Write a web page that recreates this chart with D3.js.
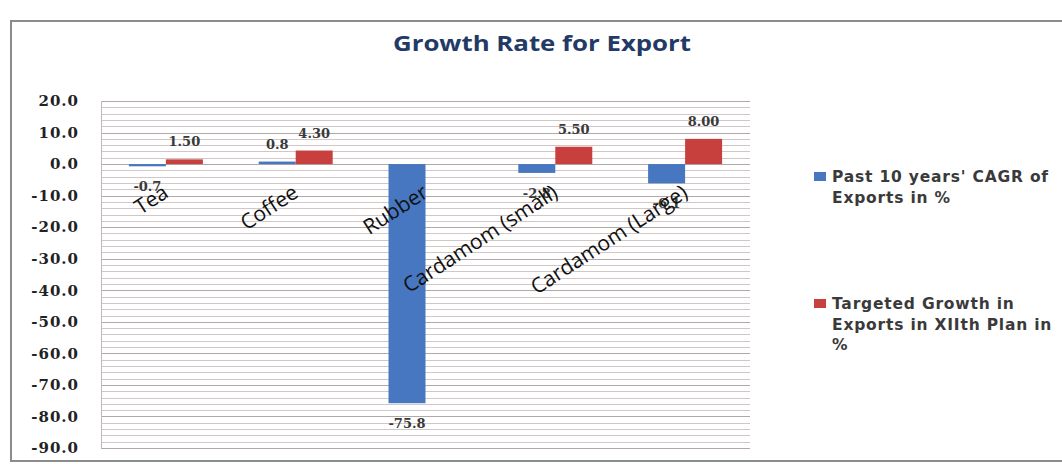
<!DOCTYPE html>
<html>
<head>
<meta charset="utf-8">
<script src="https://cdn.jsdelivr.net/npm/d3@7"></script>
<style>
  html, body { margin: 0; padding: 0; background: #ffffff; }
  svg { display: block; }
</style>
</head>
<body>
<svg id="chart" width="1062" height="464"></svg>
<script>
// ---- data ----
const categories = ["Tea", "Coffee", "Rubber", "Cardamom (small)", "Cardamom (Large)"];
const seriesNames = ["Past 10 years' CAGR of Exports in %", "Targeted Growth in Exports in XIIth Plan in %"];
const pastCAGR = [-0.7, 0.8, -75.8, -2.8, -6.1];
const pastLabels = ["-0.7", "0.8", "-75.8", "-2.8", "-6.1"];
const targeted = [1.5, 4.3, null, 5.5, 8.0];
const targetedLabels = ["1.50", "4.30", "", "5.50", "8.00"];
const tickValues = [20, 10, 0, -10, -20, -30, -40, -50, -60, -70, -80, -90];
const legendLines = [["Past 10 years' CAGR of", "Exports in %"], ["Targeted Growth in", "Exports in XIIth Plan in", "%"]];
const chartTitle = "Growth Rate for Export";
const colors = ["#4677c0", "#c8403e"];

const svg = d3.select("#chart");

// frame
svg.append("rect").attr("x", 0).attr("y", 0).attr("width", 1062).attr("height", 464).attr("fill", "#ffffff");
svg.append("rect").attr("x", 11).attr("y", 21).attr("width", 1062).attr("height", 440)
  .attr("fill", "#ffffff").attr("stroke", "#8c8c8c").attr("stroke-width", 2);

const pLeft = 101, pRight = 750, pTop = 101, pBottom = 448;
const y = d3.scaleLinear().domain([-90, 20]).range([pBottom, pTop]);
const x0 = d3.scaleBand().domain(categories).range([pLeft, pRight]).paddingInner(0.43).paddingOuter(0.215);
const x1 = d3.scaleBand().domain([0, 1]).range([0, x0.bandwidth()]);

// gridlines every 2 units
const gridVals = d3.range(-90, 20.001, 2);
svg.append("g").selectAll("line").data(gridVals).join("line")
  .attr("x1", pLeft).attr("x2", pRight)
  .attr("y1", d => Math.round(y(d)) + 0.5).attr("y2", d => Math.round(y(d)) + 0.5)
  .attr("stroke", d => (Math.abs(d % 10) < 1e-9) ? "#b3a7a7" : "#d2c6c6")
  .attr("stroke-width", 1);
// plot left border
svg.append("line").attr("x1", pLeft + 0.5).attr("x2", pLeft + 0.5).attr("y1", pTop).attr("y2", pBottom + 0.5)
  .attr("stroke", "#c4b8b8");

// y axis labels
const fmt = d3.format(".1f");
const yAxis = d3.axisLeft(y).tickValues(tickValues).tickFormat(d => fmt(d).replace("\u2212", "-")).tickSize(0).tickPadding(22);
const ag = svg.append("g").attr("transform", `translate(${pLeft},0)`).call(yAxis);
ag.select(".domain").remove();
ag.selectAll("text")
  .attr("font-family", "DejaVu Serif").attr("font-weight", "bold").attr("font-size", 15)
  .attr("letter-spacing", 1).attr("fill", "#222");

// title
svg.append("text").attr("x", 542).attr("y", 51).attr("text-anchor", "middle")
  .attr("font-family", "Open Sans").attr("font-weight", "bold").attr("font-size", 22)
  .attr("textLength", 298).attr("lengthAdjust", "spacingAndGlyphs")
  .attr("fill", "#233a66").text(chartTitle);

// bars
const seriesData = [pastCAGR, targeted];
const labelData = [pastLabels, targetedLabels];
seriesData.forEach((vals, s) => {
  const g = svg.append("g");
  const data = categories.map((c, i) => ({ c, v: vals[i], lab: labelData[s][i] })).filter(d => d.v !== null);
  g.selectAll("rect").data(data).join("rect")
    .attr("x", d => x0(d.c) + x1(s))
    .attr("width", x1.bandwidth())
    .attr("y", d => y(Math.max(0, d.v)))
    .attr("height", d => Math.abs(y(d.v) - y(0)))
    .attr("fill", colors[s]);
  g.selectAll("text").data(data).join("text")
    .attr("x", d => x0(d.c) + x1(s) + x1.bandwidth() / 2)
    .attr("y", d => d.v >= 0 ? y(d.v) - 13 : y(d.v) + 25)
    .attr("text-anchor", "middle")
    .attr("font-family", "DejaVu Serif").attr("font-weight", "bold").attr("font-size", 13)
    .attr("fill", "#3a3a3a")
    .text(d => d.lab);
});

// category labels (rotated)
svg.append("g").selectAll("text").data(categories).join("text")
  .attr("transform", d => `translate(${x0(d) + x0.bandwidth() / 2 + 4},${y(0) + 32}) rotate(-33)`)
  .attr("text-anchor", "end")
  .attr("font-family", "Open Sans").attr("font-size", 21).attr("fill", "#111")
  .text(d => d);

// legend
const legendTop = [182, 309];
legendLines.forEach((lines, s) => {
  svg.append("rect").attr("x", 814).attr("y", legendTop[s] - 10).attr("width", 12).attr("height", 9)
    .attr("fill", colors[s]);
  lines.forEach((t, j) => {
    svg.append("text").attr("x", 832).attr("y", legendTop[s] + j * 20.5)
      .attr("font-family", "DejaVu Sans").attr("font-weight", "bold").attr("font-size", 15.5)
      .attr("letter-spacing", 0.8)
      .attr("fill", "#3a3a3a").text(t);
  });
});
</script>
</body>
</html>
